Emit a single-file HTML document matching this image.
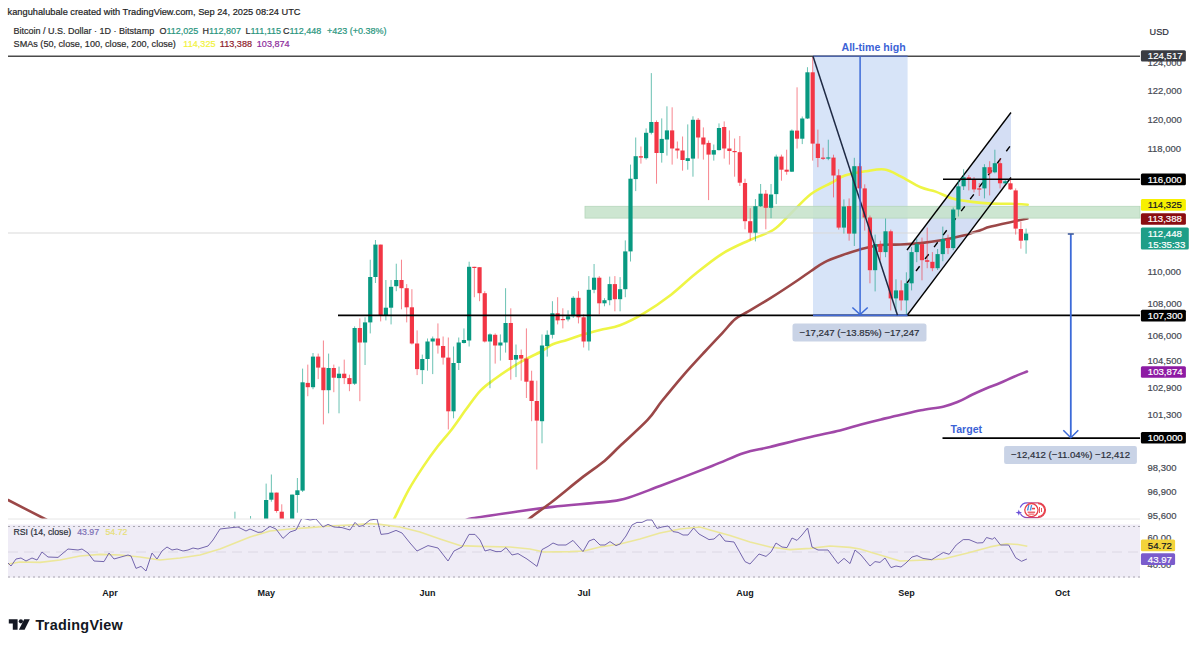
<!DOCTYPE html><html><head><meta charset="utf-8"><style>html,body{margin:0;padding:0;background:#fff;width:1200px;height:646px;overflow:hidden}svg{display:block}text{font-family:"Liberation Sans",sans-serif;white-space:pre}</style></head><body>
<svg width="1200" height="646" viewBox="0 0 1200 646">
<rect width="1200" height="646" fill="#fff"/>
<defs><clipPath id="main"><rect x="8" y="50" width="1132" height="469"/></clipPath><clipPath id="rsi"><rect x="8" y="519" width="1132" height="62"/></clipPath></defs>
<rect x="813" y="56" width="94.6" height="259.5" fill="#d7e4f8"/>
<polygon points="907,250 1011,112.5 1011,177.5 907,315.5" fill="#d4def4"/>
<g clip-path="url(#main)" fill="none" stroke-linejoin="round" stroke-linecap="round">
<path d="M462.0,522.0 C463.7,521.4 464.1,519.9 472.0,518.4 C479.9,516.9 496.1,514.6 509.5,512.7 C523.0,510.8 537.6,508.6 552.7,506.9 C567.8,505.2 588.1,503.7 600.0,502.4 C611.9,501.1 614.0,501.7 624.0,499.0 C634.0,496.3 645.3,491.5 660.0,486.0 C674.7,480.5 698.0,471.5 712.0,466.0 C726.0,460.5 734.3,456.2 744.0,453.0 C753.7,449.8 759.5,449.6 770.0,447.0 C780.5,444.4 795.5,440.5 807.2,437.7 C818.9,434.9 831.0,432.6 840.0,430.4 C849.0,428.2 854.2,426.2 861.0,424.4 C867.8,422.6 874.3,421.0 881.0,419.4 C887.7,417.8 894.3,416.2 901.0,414.7 C907.7,413.2 913.8,411.7 921.0,410.3 C928.2,408.9 937.8,407.8 944.0,406.4 C950.2,405.0 953.3,403.7 958.0,401.8 C962.7,399.9 967.3,397.0 972.0,394.8 C976.7,392.6 981.3,390.5 986.0,388.5 C990.7,386.5 995.3,385.0 1000.0,383.0 C1004.7,381.0 1009.5,378.6 1014.0,376.7 C1018.5,374.8 1024.8,372.4 1027.0,371.5" stroke="#a048a8" stroke-width="2.6"/>
<path d="M8.0,500.0 C14.2,503.2 38.0,515.3 45.0,519.0 C52.0,522.7 49.2,521.5 50.0,522.0" stroke="#9b4747" stroke-width="2.6"/>
<path d="M527.0,522.0 C527.4,521.4 525.3,521.9 529.6,518.4 C533.9,514.9 544.1,507.9 552.7,501.2 C561.3,494.5 572.8,484.8 581.4,478.1 C590.0,471.4 598.1,466.2 604.5,460.9 C610.9,455.5 612.8,452.8 620.0,446.0 C627.2,439.2 640.6,427.3 647.6,419.9 C654.6,412.4 655.8,408.7 661.7,401.3 C667.7,393.9 676.1,383.6 683.3,375.3 C690.5,367.0 698.5,358.5 705.0,351.5 C711.5,344.5 717.2,338.5 722.3,333.1 C727.3,327.7 731.0,322.6 735.3,319.0 C739.6,315.4 742.5,314.8 748.3,311.4 C754.1,308.0 761.7,303.6 770.0,298.4 C778.3,293.2 791.3,284.6 798.1,280.0 C804.9,275.4 806.6,273.9 811.0,271.0 C815.4,268.1 819.2,264.9 824.3,262.3 C829.3,259.7 835.3,257.6 841.3,255.5 C847.2,253.3 853.5,251.2 860.0,249.4 C866.5,247.7 873.7,245.8 880.5,245.0 C887.3,244.2 894.0,244.8 900.7,244.5 C907.4,244.2 914.1,243.8 920.8,243.1 C927.5,242.4 934.3,241.5 941.0,240.3 C947.7,239.1 954.3,237.7 961.0,236.0 C967.7,234.3 976.0,231.6 981.0,230.0 C986.0,228.4 983.3,228.5 991.0,226.6 C998.7,224.7 1021.3,219.8 1027.4,218.5" stroke="#9b4747" stroke-width="2.6"/>
<path d="M392.0,522.0 C392.4,521.4 391.6,523.8 394.4,518.4 C397.2,513.0 404.0,498.2 408.8,489.6 C413.6,481.0 418.4,473.8 423.2,466.6 C428.0,459.4 432.8,452.7 437.6,446.5 C442.4,440.3 447.1,435.4 451.9,429.2 C456.7,423.0 461.5,415.6 466.3,409.1 C471.1,402.6 475.9,395.4 480.7,390.4 C485.5,385.3 490.3,382.4 495.1,378.8 C499.9,375.2 504.7,371.9 509.5,368.8 C514.3,365.7 518.6,363.0 523.9,360.1 C529.2,357.2 536.4,354.1 541.2,351.5 C546.0,348.9 548.4,346.2 552.7,344.3 C557.0,342.4 562.5,341.5 567.0,340.0 C571.5,338.5 574.5,337.2 580.0,335.5 C585.5,333.8 593.3,331.7 600.0,330.0 C606.7,328.3 612.7,328.1 620.0,325.3 C627.3,322.5 635.3,318.5 643.8,313.4 C652.3,308.3 662.6,301.2 671.1,294.7 C679.6,288.2 686.4,281.1 694.9,274.3 C703.4,267.5 713.0,259.5 722.1,253.8 C731.2,248.1 740.9,244.2 749.4,240.2 C757.9,236.2 766.2,234.5 773.2,230.0 C780.2,225.5 784.8,219.2 791.1,213.2 C797.4,207.2 804.4,199.0 811.0,194.0 C817.6,189.0 825.3,186.1 831.0,183.0 C836.7,179.9 839.1,177.5 845.0,175.5 C850.9,173.5 859.8,172.2 866.4,171.2 C873.0,170.2 878.8,168.7 884.5,169.5 C890.2,170.3 894.6,173.3 900.6,176.3 C906.6,179.3 914.9,184.8 920.7,187.3 C926.6,189.9 930.4,189.7 935.7,191.6 C941.0,193.5 946.5,196.8 952.5,198.5 C958.5,200.2 965.5,201.1 972.0,201.9 C978.5,202.8 985.0,203.3 991.5,203.6 C998.0,203.9 1005.0,203.6 1011.0,203.8 C1017.0,204.0 1024.9,204.5 1027.7,204.7" stroke="#eef545" stroke-width="2.6"/>
</g>
<line x1="8" y1="233" x2="1140" y2="233" stroke="#d9d9d9" stroke-width="1"/>
<rect x="585" y="206.3" width="555" height="11.8" fill="#c6e2cb" fill-opacity="0.88" stroke="#b5d6bb" stroke-width="0.8"/>
<line x1="907" y1="250" x2="1011" y2="112.5" stroke="#000" stroke-width="1.35"/>
<line x1="907" y1="315.5" x2="1011" y2="177.5" stroke="#000" stroke-width="1.35"/>
<line x1="907" y1="283" x2="1011" y2="145" stroke="#000" stroke-width="1.4" stroke-dasharray="6,9"/>
<g clip-path="url(#main)">
<rect x="234.42" y="511.7" width="1" height="18.3" fill="#089981" fill-opacity="0.6"/>
<rect x="232.82" y="525.0" width="4.2" height="5.0" fill="#089981"/>
<rect x="250.03" y="516.0" width="1" height="14.0" fill="#089981" fill-opacity="0.6"/>
<rect x="248.44" y="525.0" width="4.2" height="5.0" fill="#089981"/>
<rect x="265.65" y="483.6" width="1" height="46.4" fill="#089981" fill-opacity="0.6"/>
<rect x="264.05" y="500.0" width="4.2" height="30.0" fill="#089981"/>
<rect x="270.86" y="474.5" width="1" height="27.2" fill="#089981" fill-opacity="0.6"/>
<rect x="269.25" y="492.6" width="4.2" height="7.1" fill="#089981"/>
<rect x="276.06" y="492.6" width="1" height="20.1" fill="#f23645" fill-opacity="0.6"/>
<rect x="274.46" y="492.6" width="4.2" height="18.4" fill="#f23645"/>
<rect x="281.26" y="504.3" width="1" height="25.7" fill="#f23645" fill-opacity="0.6"/>
<rect x="279.66" y="511.7" width="4.2" height="18.3" fill="#f23645"/>
<rect x="291.68" y="494.6" width="1" height="35.4" fill="#089981" fill-opacity="0.6"/>
<rect x="290.07" y="494.6" width="4.2" height="35.4" fill="#089981"/>
<rect x="296.88" y="478.0" width="1" height="34.7" fill="#089981" fill-opacity="0.6"/>
<rect x="295.28" y="490.3" width="4.2" height="4.7" fill="#089981"/>
<rect x="302.09" y="368.6" width="1" height="123.4" fill="#089981" fill-opacity="0.6"/>
<rect x="300.49" y="382.3" width="4.2" height="108.3" fill="#089981"/>
<rect x="307.29" y="364.6" width="1" height="31.6" fill="#f23645" fill-opacity="0.6"/>
<rect x="305.69" y="382.9" width="4.2" height="4.3" fill="#f23645"/>
<rect x="312.50" y="353.0" width="1" height="36.2" fill="#089981" fill-opacity="0.6"/>
<rect x="310.89" y="356.6" width="4.2" height="30.6" fill="#089981"/>
<rect x="317.70" y="353.6" width="1" height="25.5" fill="#f23645" fill-opacity="0.6"/>
<rect x="316.10" y="356.6" width="4.2" height="11.0" fill="#f23645"/>
<rect x="322.90" y="340.5" width="1" height="83.9" fill="#f23645" fill-opacity="0.6"/>
<rect x="321.30" y="367.6" width="4.2" height="22.6" fill="#f23645"/>
<rect x="328.11" y="353.6" width="1" height="59.7" fill="#089981" fill-opacity="0.6"/>
<rect x="326.51" y="368.0" width="4.2" height="22.2" fill="#089981"/>
<rect x="333.31" y="364.6" width="1" height="27.6" fill="#f23645" fill-opacity="0.6"/>
<rect x="331.71" y="368.0" width="4.2" height="9.7" fill="#f23645"/>
<rect x="338.52" y="366.6" width="1" height="46.7" fill="#089981" fill-opacity="0.6"/>
<rect x="336.92" y="373.7" width="4.2" height="4.4" fill="#089981"/>
<rect x="343.73" y="359.6" width="1" height="24.5" fill="#f23645" fill-opacity="0.6"/>
<rect x="342.12" y="373.7" width="4.2" height="4.4" fill="#f23645"/>
<rect x="348.93" y="374.7" width="1" height="16.5" fill="#f23645" fill-opacity="0.6"/>
<rect x="347.33" y="378.1" width="4.2" height="6.0" fill="#f23645"/>
<rect x="354.13" y="326.4" width="1" height="58.6" fill="#089981" fill-opacity="0.6"/>
<rect x="352.53" y="328.0" width="4.2" height="55.7" fill="#089981"/>
<rect x="359.34" y="318.4" width="1" height="82.8" fill="#f23645" fill-opacity="0.6"/>
<rect x="357.74" y="328.0" width="4.2" height="14.5" fill="#f23645"/>
<rect x="364.55" y="317.3" width="1" height="47.7" fill="#089981" fill-opacity="0.6"/>
<rect x="362.94" y="322.4" width="4.2" height="20.1" fill="#089981"/>
<rect x="369.75" y="259.7" width="1" height="73.7" fill="#089981" fill-opacity="0.6"/>
<rect x="368.15" y="277.0" width="4.2" height="45.4" fill="#089981"/>
<rect x="374.95" y="240.0" width="1" height="43.0" fill="#089981" fill-opacity="0.6"/>
<rect x="373.35" y="244.6" width="4.2" height="32.4" fill="#089981"/>
<rect x="380.16" y="244.6" width="1" height="76.8" fill="#f23645" fill-opacity="0.6"/>
<rect x="378.56" y="244.6" width="4.2" height="70.7" fill="#f23645"/>
<rect x="385.37" y="280.0" width="1" height="40.4" fill="#089981" fill-opacity="0.6"/>
<rect x="383.76" y="307.7" width="4.2" height="7.6" fill="#089981"/>
<rect x="390.57" y="280.0" width="1" height="44.4" fill="#089981" fill-opacity="0.6"/>
<rect x="388.97" y="286.8" width="4.2" height="20.9" fill="#089981"/>
<rect x="395.77" y="263.7" width="1" height="27.5" fill="#089981" fill-opacity="0.6"/>
<rect x="394.17" y="280.0" width="4.2" height="6.2" fill="#089981"/>
<rect x="400.98" y="259.7" width="1" height="49.6" fill="#f23645" fill-opacity="0.6"/>
<rect x="399.38" y="280.0" width="4.2" height="8.2" fill="#f23645"/>
<rect x="406.19" y="284.1" width="1" height="38.3" fill="#f23645" fill-opacity="0.6"/>
<rect x="404.58" y="288.2" width="4.2" height="19.1" fill="#f23645"/>
<rect x="411.39" y="289.2" width="1" height="55.3" fill="#f23645" fill-opacity="0.6"/>
<rect x="409.79" y="307.3" width="4.2" height="36.2" fill="#f23645"/>
<rect x="416.60" y="330.4" width="1" height="44.7" fill="#f23645" fill-opacity="0.6"/>
<rect x="415.00" y="343.5" width="4.2" height="25.6" fill="#f23645"/>
<rect x="421.80" y="354.6" width="1" height="29.5" fill="#089981" fill-opacity="0.6"/>
<rect x="420.20" y="359.0" width="4.2" height="11.1" fill="#089981"/>
<rect x="427.00" y="338.5" width="1" height="32.2" fill="#089981" fill-opacity="0.6"/>
<rect x="425.40" y="341.5" width="4.2" height="17.5" fill="#089981"/>
<rect x="432.21" y="336.5" width="1" height="37.6" fill="#089981" fill-opacity="0.6"/>
<rect x="430.61" y="338.5" width="4.2" height="3.0" fill="#089981"/>
<rect x="437.42" y="323.4" width="1" height="30.2" fill="#f23645" fill-opacity="0.6"/>
<rect x="435.81" y="338.5" width="4.2" height="7.0" fill="#f23645"/>
<rect x="442.62" y="336.5" width="1" height="28.1" fill="#f23645" fill-opacity="0.6"/>
<rect x="441.02" y="346.0" width="4.2" height="11.6" fill="#f23645"/>
<rect x="447.82" y="337.5" width="1" height="91.9" fill="#f23645" fill-opacity="0.6"/>
<rect x="446.22" y="357.6" width="4.2" height="53.7" fill="#f23645"/>
<rect x="453.03" y="346.5" width="1" height="71.8" fill="#089981" fill-opacity="0.6"/>
<rect x="451.43" y="363.0" width="4.2" height="48.3" fill="#089981"/>
<rect x="458.24" y="337.5" width="1" height="32.5" fill="#089981" fill-opacity="0.6"/>
<rect x="456.63" y="342.5" width="4.2" height="20.5" fill="#089981"/>
<rect x="463.44" y="328.4" width="1" height="15.1" fill="#089981" fill-opacity="0.6"/>
<rect x="461.84" y="340.0" width="4.2" height="3.0" fill="#089981"/>
<rect x="468.64" y="261.7" width="1" height="84.8" fill="#089981" fill-opacity="0.6"/>
<rect x="467.04" y="266.8" width="4.2" height="73.7" fill="#089981"/>
<rect x="473.85" y="266.8" width="1" height="30.4" fill="#f23645" fill-opacity="0.6"/>
<rect x="472.25" y="266.8" width="4.2" height="1.2" fill="#f23645"/>
<rect x="479.06" y="267.2" width="1" height="34.0" fill="#f23645" fill-opacity="0.6"/>
<rect x="477.45" y="267.2" width="4.2" height="26.0" fill="#f23645"/>
<rect x="484.26" y="291.2" width="1" height="51.3" fill="#f23645" fill-opacity="0.6"/>
<rect x="482.66" y="293.2" width="4.2" height="48.3" fill="#f23645"/>
<rect x="489.47" y="333.4" width="1" height="54.8" fill="#089981" fill-opacity="0.6"/>
<rect x="487.87" y="334.4" width="4.2" height="7.1" fill="#089981"/>
<rect x="494.67" y="333.4" width="1" height="30.2" fill="#f23645" fill-opacity="0.6"/>
<rect x="493.07" y="334.8" width="4.2" height="10.7" fill="#f23645"/>
<rect x="499.88" y="334.4" width="1" height="26.2" fill="#089981" fill-opacity="0.6"/>
<rect x="498.27" y="342.5" width="4.2" height="3.0" fill="#089981"/>
<rect x="505.08" y="288.2" width="1" height="64.4" fill="#089981" fill-opacity="0.6"/>
<rect x="503.48" y="323.0" width="4.2" height="19.5" fill="#089981"/>
<rect x="510.29" y="308.3" width="1" height="71.4" fill="#f23645" fill-opacity="0.6"/>
<rect x="508.69" y="323.0" width="4.2" height="37.0" fill="#f23645"/>
<rect x="515.49" y="344.5" width="1" height="32.6" fill="#089981" fill-opacity="0.6"/>
<rect x="513.89" y="355.0" width="4.2" height="4.6" fill="#089981"/>
<rect x="520.69" y="349.5" width="1" height="31.2" fill="#f23645" fill-opacity="0.6"/>
<rect x="519.09" y="355.0" width="4.2" height="3.6" fill="#f23645"/>
<rect x="525.90" y="328.4" width="1" height="69.6" fill="#f23645" fill-opacity="0.6"/>
<rect x="524.30" y="358.6" width="4.2" height="23.1" fill="#f23645"/>
<rect x="531.11" y="370.7" width="1" height="50.5" fill="#f23645" fill-opacity="0.6"/>
<rect x="529.50" y="380.7" width="4.2" height="20.3" fill="#f23645"/>
<rect x="536.31" y="380.7" width="1" height="88.8" fill="#f23645" fill-opacity="0.6"/>
<rect x="534.71" y="401.0" width="4.2" height="19.6" fill="#f23645"/>
<rect x="541.51" y="334.4" width="1" height="108.9" fill="#089981" fill-opacity="0.6"/>
<rect x="539.91" y="345.5" width="4.2" height="75.7" fill="#089981"/>
<rect x="546.72" y="330.4" width="1" height="26.2" fill="#089981" fill-opacity="0.6"/>
<rect x="545.12" y="334.8" width="4.2" height="11.3" fill="#089981"/>
<rect x="551.92" y="301.2" width="1" height="37.3" fill="#089981" fill-opacity="0.6"/>
<rect x="550.32" y="313.3" width="4.2" height="21.5" fill="#089981"/>
<rect x="557.13" y="297.2" width="1" height="27.2" fill="#f23645" fill-opacity="0.6"/>
<rect x="555.53" y="313.3" width="4.2" height="7.1" fill="#f23645"/>
<rect x="562.34" y="308.3" width="1" height="20.1" fill="#f23645" fill-opacity="0.6"/>
<rect x="560.74" y="319.0" width="4.2" height="1.2" fill="#f23645"/>
<rect x="567.54" y="310.3" width="1" height="11.1" fill="#089981" fill-opacity="0.6"/>
<rect x="565.94" y="316.3" width="4.2" height="3.1" fill="#089981"/>
<rect x="572.75" y="296.2" width="1" height="21.8" fill="#089981" fill-opacity="0.6"/>
<rect x="571.14" y="297.8" width="4.2" height="18.5" fill="#089981"/>
<rect x="577.95" y="291.2" width="1" height="32.2" fill="#f23645" fill-opacity="0.6"/>
<rect x="576.35" y="297.8" width="4.2" height="19.5" fill="#f23645"/>
<rect x="583.15" y="314.3" width="1" height="33.2" fill="#f23645" fill-opacity="0.6"/>
<rect x="581.55" y="317.3" width="4.2" height="24.2" fill="#f23645"/>
<rect x="588.36" y="276.1" width="1" height="74.4" fill="#089981" fill-opacity="0.6"/>
<rect x="586.76" y="289.8" width="4.2" height="51.7" fill="#089981"/>
<rect x="593.57" y="264.0" width="1" height="29.2" fill="#089981" fill-opacity="0.6"/>
<rect x="591.97" y="277.7" width="4.2" height="12.1" fill="#089981"/>
<rect x="598.77" y="276.1" width="1" height="38.2" fill="#f23645" fill-opacity="0.6"/>
<rect x="597.17" y="277.7" width="4.2" height="25.6" fill="#f23645"/>
<rect x="603.98" y="298.2" width="1" height="8.1" fill="#089981" fill-opacity="0.6"/>
<rect x="602.38" y="300.2" width="4.2" height="3.1" fill="#089981"/>
<rect x="609.18" y="276.6" width="1" height="28.7" fill="#089981" fill-opacity="0.6"/>
<rect x="607.58" y="284.1" width="4.2" height="16.1" fill="#089981"/>
<rect x="614.38" y="276.1" width="1" height="35.2" fill="#f23645" fill-opacity="0.6"/>
<rect x="612.78" y="284.1" width="4.2" height="15.1" fill="#f23645"/>
<rect x="619.59" y="277.1" width="1" height="34.2" fill="#089981" fill-opacity="0.6"/>
<rect x="617.99" y="289.2" width="4.2" height="10.0" fill="#089981"/>
<rect x="624.79" y="240.4" width="1" height="56.8" fill="#089981" fill-opacity="0.6"/>
<rect x="623.19" y="251.4" width="4.2" height="37.8" fill="#089981"/>
<rect x="630.00" y="164.6" width="1" height="96.9" fill="#089981" fill-opacity="0.6"/>
<rect x="628.40" y="178.7" width="4.2" height="72.7" fill="#089981"/>
<rect x="635.21" y="137.5" width="1" height="53.6" fill="#089981" fill-opacity="0.6"/>
<rect x="633.61" y="156.2" width="4.2" height="22.9" fill="#089981"/>
<rect x="640.41" y="146.5" width="1" height="17.1" fill="#f23645" fill-opacity="0.6"/>
<rect x="638.81" y="156.2" width="4.2" height="1.4" fill="#f23645"/>
<rect x="645.62" y="128.4" width="1" height="31.2" fill="#089981" fill-opacity="0.6"/>
<rect x="644.01" y="132.8" width="4.2" height="25.4" fill="#089981"/>
<rect x="650.82" y="73.1" width="1" height="61.3" fill="#089981" fill-opacity="0.6"/>
<rect x="649.22" y="122.0" width="4.2" height="10.8" fill="#089981"/>
<rect x="656.02" y="120.4" width="1" height="63.3" fill="#f23645" fill-opacity="0.6"/>
<rect x="654.42" y="122.0" width="4.2" height="31.0" fill="#f23645"/>
<rect x="661.23" y="118.4" width="1" height="44.2" fill="#089981" fill-opacity="0.6"/>
<rect x="659.63" y="138.9" width="4.2" height="14.1" fill="#089981"/>
<rect x="666.44" y="106.3" width="1" height="49.3" fill="#089981" fill-opacity="0.6"/>
<rect x="664.84" y="130.4" width="4.2" height="9.1" fill="#089981"/>
<rect x="671.64" y="107.3" width="1" height="57.3" fill="#f23645" fill-opacity="0.6"/>
<rect x="670.04" y="130.4" width="4.2" height="18.1" fill="#f23645"/>
<rect x="676.85" y="141.5" width="1" height="17.1" fill="#f23645" fill-opacity="0.6"/>
<rect x="675.25" y="148.5" width="4.2" height="2.0" fill="#f23645"/>
<rect x="682.05" y="136.5" width="1" height="34.2" fill="#f23645" fill-opacity="0.6"/>
<rect x="680.45" y="150.5" width="4.2" height="9.5" fill="#f23645"/>
<rect x="687.25" y="124.4" width="1" height="45.3" fill="#089981" fill-opacity="0.6"/>
<rect x="685.65" y="158.2" width="4.2" height="2.8" fill="#089981"/>
<rect x="692.46" y="116.3" width="1" height="60.4" fill="#089981" fill-opacity="0.6"/>
<rect x="690.86" y="119.8" width="4.2" height="38.8" fill="#089981"/>
<rect x="697.66" y="118.0" width="1" height="40.6" fill="#f23645" fill-opacity="0.6"/>
<rect x="696.06" y="119.8" width="4.2" height="17.7" fill="#f23645"/>
<rect x="702.87" y="127.4" width="1" height="32.2" fill="#f23645" fill-opacity="0.6"/>
<rect x="701.27" y="137.5" width="4.2" height="7.0" fill="#f23645"/>
<rect x="708.08" y="140.5" width="1" height="59.6" fill="#f23645" fill-opacity="0.6"/>
<rect x="706.48" y="142.9" width="4.2" height="11.7" fill="#f23645"/>
<rect x="713.28" y="144.5" width="1" height="16.1" fill="#089981" fill-opacity="0.6"/>
<rect x="711.68" y="150.1" width="4.2" height="4.5" fill="#089981"/>
<rect x="718.49" y="123.4" width="1" height="27.1" fill="#089981" fill-opacity="0.6"/>
<rect x="716.88" y="128.0" width="4.2" height="22.1" fill="#089981"/>
<rect x="723.69" y="121.4" width="1" height="37.2" fill="#f23645" fill-opacity="0.6"/>
<rect x="722.09" y="127.0" width="4.2" height="21.5" fill="#f23645"/>
<rect x="728.89" y="130.4" width="1" height="34.2" fill="#f23645" fill-opacity="0.6"/>
<rect x="727.29" y="148.5" width="4.2" height="2.5" fill="#f23645"/>
<rect x="734.10" y="138.5" width="1" height="38.2" fill="#f23645" fill-opacity="0.6"/>
<rect x="732.50" y="151.0" width="4.2" height="1.2" fill="#f23645"/>
<rect x="739.31" y="136.0" width="1" height="50.0" fill="#f23645" fill-opacity="0.6"/>
<rect x="737.71" y="152.2" width="4.2" height="30.5" fill="#f23645"/>
<rect x="744.51" y="178.7" width="1" height="50.6" fill="#f23645" fill-opacity="0.6"/>
<rect x="742.91" y="183.0" width="4.2" height="38.2" fill="#f23645"/>
<rect x="749.72" y="208.2" width="1" height="32.2" fill="#f23645" fill-opacity="0.6"/>
<rect x="748.12" y="221.2" width="4.2" height="11.5" fill="#f23645"/>
<rect x="754.92" y="199.1" width="1" height="42.3" fill="#089981" fill-opacity="0.6"/>
<rect x="753.32" y="206.2" width="4.2" height="26.5" fill="#089981"/>
<rect x="760.12" y="184.0" width="1" height="23.0" fill="#089981" fill-opacity="0.6"/>
<rect x="758.52" y="193.7" width="4.2" height="12.5" fill="#089981"/>
<rect x="765.33" y="190.0" width="1" height="39.3" fill="#f23645" fill-opacity="0.6"/>
<rect x="763.73" y="193.7" width="4.2" height="14.1" fill="#f23645"/>
<rect x="770.53" y="184.0" width="1" height="34.2" fill="#089981" fill-opacity="0.6"/>
<rect x="768.93" y="194.5" width="4.2" height="13.3" fill="#089981"/>
<rect x="775.74" y="154.6" width="1" height="49.5" fill="#089981" fill-opacity="0.6"/>
<rect x="774.14" y="156.6" width="4.2" height="37.5" fill="#089981"/>
<rect x="780.95" y="154.6" width="1" height="26.1" fill="#f23645" fill-opacity="0.6"/>
<rect x="779.35" y="156.6" width="4.2" height="13.1" fill="#f23645"/>
<rect x="786.15" y="149.7" width="1" height="25.0" fill="#f23645" fill-opacity="0.6"/>
<rect x="784.55" y="169.7" width="4.2" height="2.0" fill="#f23645"/>
<rect x="791.36" y="129.4" width="1" height="42.6" fill="#089981" fill-opacity="0.6"/>
<rect x="789.75" y="130.6" width="4.2" height="41.1" fill="#089981"/>
<rect x="796.56" y="87.3" width="1" height="61.2" fill="#f23645" fill-opacity="0.6"/>
<rect x="794.96" y="130.6" width="4.2" height="8.1" fill="#f23645"/>
<rect x="801.76" y="116.5" width="1" height="27.6" fill="#089981" fill-opacity="0.6"/>
<rect x="800.16" y="118.5" width="4.2" height="20.2" fill="#089981"/>
<rect x="806.97" y="67.2" width="1" height="51.8" fill="#089981" fill-opacity="0.6"/>
<rect x="805.37" y="72.3" width="4.2" height="46.2" fill="#089981"/>
<rect x="812.17" y="56.2" width="1" height="104.4" fill="#f23645" fill-opacity="0.6"/>
<rect x="810.57" y="72.3" width="4.2" height="71.3" fill="#f23645"/>
<rect x="817.38" y="129.6" width="1" height="37.6" fill="#f23645" fill-opacity="0.6"/>
<rect x="815.78" y="143.7" width="4.2" height="14.3" fill="#f23645"/>
<rect x="822.59" y="147.7" width="1" height="12.3" fill="#f23645" fill-opacity="0.6"/>
<rect x="820.99" y="157.6" width="4.2" height="1.2" fill="#f23645"/>
<rect x="827.79" y="139.7" width="1" height="20.5" fill="#089981" fill-opacity="0.6"/>
<rect x="826.19" y="157.4" width="4.2" height="1.2" fill="#089981"/>
<rect x="833.00" y="154.7" width="1" height="42.7" fill="#f23645" fill-opacity="0.6"/>
<rect x="831.39" y="157.6" width="4.2" height="17.9" fill="#f23645"/>
<rect x="838.20" y="169.2" width="1" height="60.4" fill="#f23645" fill-opacity="0.6"/>
<rect x="836.60" y="175.3" width="4.2" height="52.3" fill="#f23645"/>
<rect x="843.40" y="199.4" width="1" height="34.2" fill="#089981" fill-opacity="0.6"/>
<rect x="841.80" y="206.5" width="4.2" height="21.1" fill="#089981"/>
<rect x="848.61" y="198.4" width="1" height="42.3" fill="#f23645" fill-opacity="0.6"/>
<rect x="847.01" y="206.1" width="4.2" height="27.5" fill="#f23645"/>
<rect x="853.82" y="157.8" width="1" height="88.2" fill="#089981" fill-opacity="0.6"/>
<rect x="852.22" y="166.2" width="4.2" height="67.4" fill="#089981"/>
<rect x="859.02" y="163.2" width="1" height="29.2" fill="#f23645" fill-opacity="0.6"/>
<rect x="857.42" y="166.2" width="4.2" height="22.2" fill="#f23645"/>
<rect x="864.23" y="184.3" width="1" height="46.3" fill="#f23645" fill-opacity="0.6"/>
<rect x="862.62" y="188.4" width="4.2" height="29.1" fill="#f23645"/>
<rect x="869.43" y="215.5" width="1" height="67.8" fill="#f23645" fill-opacity="0.6"/>
<rect x="867.83" y="217.5" width="4.2" height="52.7" fill="#f23645"/>
<rect x="874.63" y="234.6" width="1" height="56.8" fill="#089981" fill-opacity="0.6"/>
<rect x="873.03" y="244.1" width="4.2" height="26.1" fill="#089981"/>
<rect x="879.84" y="240.7" width="1" height="19.5" fill="#f23645" fill-opacity="0.6"/>
<rect x="878.24" y="244.1" width="4.2" height="8.0" fill="#f23645"/>
<rect x="885.04" y="218.5" width="1" height="38.7" fill="#089981" fill-opacity="0.6"/>
<rect x="883.44" y="231.3" width="4.2" height="20.8" fill="#089981"/>
<rect x="890.25" y="229.6" width="1" height="80.9" fill="#f23645" fill-opacity="0.6"/>
<rect x="888.65" y="231.3" width="4.2" height="67.1" fill="#f23645"/>
<rect x="895.46" y="279.3" width="1" height="32.2" fill="#089981" fill-opacity="0.6"/>
<rect x="893.86" y="290.4" width="4.2" height="8.0" fill="#089981"/>
<rect x="900.66" y="280.3" width="1" height="30.2" fill="#f23645" fill-opacity="0.6"/>
<rect x="899.06" y="290.4" width="4.2" height="10.0" fill="#f23645"/>
<rect x="905.87" y="272.3" width="1" height="42.2" fill="#089981" fill-opacity="0.6"/>
<rect x="904.26" y="283.3" width="4.2" height="17.1" fill="#089981"/>
<rect x="911.07" y="247.1" width="1" height="43.3" fill="#089981" fill-opacity="0.6"/>
<rect x="909.47" y="252.1" width="4.2" height="31.2" fill="#089981"/>
<rect x="916.27" y="238.7" width="1" height="23.5" fill="#089981" fill-opacity="0.6"/>
<rect x="914.67" y="244.1" width="4.2" height="8.0" fill="#089981"/>
<rect x="921.48" y="237.6" width="1" height="42.7" fill="#f23645" fill-opacity="0.6"/>
<rect x="919.88" y="244.1" width="4.2" height="16.1" fill="#f23645"/>
<rect x="926.69" y="227.6" width="1" height="40.6" fill="#f23645" fill-opacity="0.6"/>
<rect x="925.09" y="260.2" width="4.2" height="1.6" fill="#f23645"/>
<rect x="931.89" y="252.1" width="1" height="19.1" fill="#f23645" fill-opacity="0.6"/>
<rect x="930.29" y="261.8" width="4.2" height="6.4" fill="#f23645"/>
<rect x="937.10" y="249.0" width="1" height="21.0" fill="#089981" fill-opacity="0.6"/>
<rect x="935.50" y="254.1" width="4.2" height="14.1" fill="#089981"/>
<rect x="942.30" y="226.6" width="1" height="34.6" fill="#089981" fill-opacity="0.6"/>
<rect x="940.70" y="239.0" width="4.2" height="15.1" fill="#089981"/>
<rect x="947.50" y="234.6" width="1" height="19.5" fill="#f23645" fill-opacity="0.6"/>
<rect x="945.90" y="239.0" width="4.2" height="9.1" fill="#f23645"/>
<rect x="952.71" y="207.5" width="1" height="42.6" fill="#089981" fill-opacity="0.6"/>
<rect x="951.11" y="209.5" width="4.2" height="38.6" fill="#089981"/>
<rect x="957.91" y="180.3" width="1" height="36.2" fill="#089981" fill-opacity="0.6"/>
<rect x="956.31" y="186.3" width="4.2" height="23.2" fill="#089981"/>
<rect x="963.12" y="169.2" width="1" height="20.8" fill="#089981" fill-opacity="0.6"/>
<rect x="961.52" y="177.3" width="4.2" height="9.0" fill="#089981"/>
<rect x="968.33" y="175.0" width="1" height="15.4" fill="#f23645" fill-opacity="0.6"/>
<rect x="966.73" y="177.3" width="4.2" height="2.0" fill="#f23645"/>
<rect x="973.53" y="177.0" width="1" height="15.4" fill="#f23645" fill-opacity="0.6"/>
<rect x="971.93" y="179.3" width="4.2" height="10.1" fill="#f23645"/>
<rect x="978.74" y="183.0" width="1" height="13.0" fill="#f23645" fill-opacity="0.6"/>
<rect x="977.13" y="188.4" width="4.2" height="1.2" fill="#f23645"/>
<rect x="983.94" y="164.2" width="1" height="34.2" fill="#089981" fill-opacity="0.6"/>
<rect x="982.34" y="167.2" width="4.2" height="21.2" fill="#089981"/>
<rect x="989.14" y="161.2" width="1" height="34.2" fill="#f23645" fill-opacity="0.6"/>
<rect x="987.54" y="167.2" width="4.2" height="6.1" fill="#f23645"/>
<rect x="994.35" y="149.7" width="1" height="23.6" fill="#089981" fill-opacity="0.6"/>
<rect x="992.75" y="163.2" width="4.2" height="9.1" fill="#089981"/>
<rect x="999.56" y="158.2" width="1" height="30.2" fill="#f23645" fill-opacity="0.6"/>
<rect x="997.96" y="163.2" width="4.2" height="20.1" fill="#f23645"/>
<rect x="1004.76" y="179.3" width="1" height="5.0" fill="#089981" fill-opacity="0.6"/>
<rect x="1003.16" y="181.3" width="4.2" height="2.0" fill="#089981"/>
<rect x="1009.97" y="178.3" width="1" height="11.7" fill="#f23645" fill-opacity="0.6"/>
<rect x="1008.37" y="183.3" width="4.2" height="6.1" fill="#f23645"/>
<rect x="1015.17" y="188.4" width="1" height="46.2" fill="#f23645" fill-opacity="0.6"/>
<rect x="1013.57" y="190.4" width="4.2" height="38.2" fill="#f23645"/>
<rect x="1020.38" y="221.6" width="1" height="27.1" fill="#f23645" fill-opacity="0.6"/>
<rect x="1018.77" y="229.0" width="4.2" height="11.7" fill="#f23645"/>
<rect x="1025.58" y="228.6" width="1" height="25.1" fill="#089981" fill-opacity="0.6"/>
<rect x="1023.98" y="233.6" width="4.2" height="6.7" fill="#089981"/>
</g>
<line x1="8" y1="56.2" x2="1140" y2="56.2" stroke="#4a4a4a" stroke-width="1.6"/>
<line x1="813" y1="56.2" x2="907.6" y2="56.2" stroke="#4d64a8" stroke-width="1.6"/>
<line x1="943" y1="179.3" x2="1140" y2="179.3" stroke="#000" stroke-width="1.6"/>
<line x1="338" y1="315.3" x2="1140" y2="315.3" stroke="#000" stroke-width="1.8"/>
<line x1="813" y1="315.3" x2="907.6" y2="315.3" stroke="#4169d4" stroke-width="1.8"/>
<line x1="942.5" y1="438.2" x2="1140" y2="438.2" stroke="#000" stroke-width="1.8"/>
<line x1="813" y1="56.2" x2="897.5" y2="315.3" stroke="#1f2a44" stroke-width="1.5"/>
<g stroke="#3c6ad8" stroke-width="1.5" fill="none">
<line x1="860.1" y1="56.5" x2="860.1" y2="314.5"/><polyline points="852.4,307.5 860.1,314.5 867.7,307.5"/>
<line x1="1070.8" y1="234" x2="1070.8" y2="437.5" stroke-width="1.8"/><polyline points="1063.3,430.2 1070.8,437.8 1078.3,430.2"/><line x1="1067.8" y1="234" x2="1073.8" y2="234" stroke="#3f5b9c" stroke-width="1.6"/>
</g>
<text x="873.6" y="51" font-size="10.6" font-weight="bold" fill="#3c63d6" text-anchor="middle">All-time high</text>
<text x="950.5" y="433.2" font-size="10.6" font-weight="bold" fill="#3c63d6">Target</text>
<rect x="792.5" y="323.6" width="134" height="18" rx="2.5" fill="#c9d3e6"/>
<text x="859.5" y="335.5" font-size="9.6" fill="#2a2e39" stroke="#2a2e39" stroke-width="0.2" text-anchor="middle">−17,247 (−13.85%) −17,247</text>
<rect x="1004.1" y="445.9" width="132.8" height="18.1" rx="2" fill="#c9d3e6"/>
<text x="1070.5" y="458.3" font-size="9.6" fill="#2a2e39" stroke="#2a2e39" stroke-width="0.2" text-anchor="middle">−12,412 (−11.04%) −12,412</text>
<defs><linearGradient id="pill" x1="0" x2="1" y1="0" y2="0"><stop offset="0" stop-color="#6a4fd8"/><stop offset="0.45" stop-color="#c0448a"/><stop offset="1" stop-color="#e8414b"/></linearGradient></defs>
<path d="M1027,502.8 H1038 A7.4,7.4 0 0 1 1038,517.6 H1027 A7.4,7.4 0 0 1 1020.4,513.5" fill="none" stroke="url(#pill)" stroke-width="1.2"/>
<path d="M1020.2,507.5 A7.4,7.4 0 0 1 1027,502.8" fill="none" stroke="#6a4fd8" stroke-width="1.2"/>
<circle cx="1031.4" cy="510.1" r="6.6" fill="#fff" stroke="#e8414b" stroke-width="1.3"/>
<path d="M1038.1,503.5 A6.6,6.6 0 0 1 1038.1,516.7" fill="none" stroke="#e8414b" stroke-width="1.3"/>
<path d="M1018.8,509.4 L1019.6,511.8 L1022,512.6 L1019.6,513.4 L1018.8,515.8 L1018,513.4 L1015.6,512.6 L1018,511.8Z" fill="#6a4fd8"/>
<path d="M1026.8,510.4 L1028.2,505 H1029.4 L1028.4,510.4Z M1029.6,510.4 L1031,505 H1032.2 L1031.2,510.4Z" fill="#4a8ee0"/><rect x="1032" y="507.8" width="3" height="1.6" fill="#e8414b"/><rect x="1027.6" y="511.6" width="7.5" height="1.2" fill="#e8414b"/><rect x="1028.4" y="513.6" width="6" height="1" fill="#e8414b"/>
<path d="M1039.5,507 v6 M1041.5,508 v4" stroke="#e8414b" stroke-width="0.9"/>
<line x1="8" y1="519" x2="1140" y2="519" stroke="#e6e6e6" stroke-width="1"/>
<rect x="8" y="524.5" width="1132" height="53" fill="#efecf6"/>
<line x1="8" y1="526.5" x2="1140" y2="526.5" stroke="#a8a6b0" stroke-width="1" stroke-dasharray="2,3"/>
<line x1="8" y1="577" x2="1140" y2="577" stroke="#a8a6b0" stroke-width="1" stroke-dasharray="2,3"/>
<line x1="8" y1="552" x2="1140" y2="552" stroke="#dcd8e4" stroke-width="1" stroke-dasharray="10,6"/>
<g clip-path="url(#rsi)" fill="none" stroke-linejoin="round">
<polyline points="8.0,564.0 20.0,562.0 40.0,562.4 60.0,560.0 80.0,556.0 100.0,554.4 120.0,555.0 140.0,557.0 160.0,560.0 180.0,558.0 200.0,555.0 220.0,549.0 240.0,541.0 250.0,537.0 270.0,531.0 290.0,529.0 310.0,527.6 330.0,526.0 350.0,525.0 370.0,523.6 380.0,524.4 400.0,527.0 420.0,532.0 440.0,539.0 460.0,545.6 480.0,546.4 510.0,547.0 530.0,549.0 544.0,552.0 570.0,551.6 584.0,551.0 600.0,547.0 620.0,544.0 640.0,539.0 660.0,533.0 680.0,529.0 700.0,527.0 710.0,530.0 730.0,535.6 750.0,542.0 770.0,547.0 790.0,549.6 810.0,548.4 830.0,546.0 850.0,547.4 860.0,549.0 880.0,555.0 900.0,561.0 920.0,560.2 943.3,559.0 966.7,553.2 990.0,546.9 1006.3,543.8 1018.0,544.5 1027.3,546.2" stroke="#ece79a" stroke-width="1.6"/>
<polyline points="8.0,563.0 11.0,566.0 16.0,559.0 21.0,558.0 26.0,561.0 32.0,558.0 37.0,560.0 42.0,552.0 48.0,557.0 58.0,557.4 68.0,549.0 78.0,550.0 82.0,549.0 88.0,553.0 94.0,561.0 104.0,561.6 109.0,553.0 114.0,559.0 128.0,555.0 131.0,556.0 136.0,568.4 141.0,566.4 146.0,571.0 152.0,553.0 157.0,559.0 162.0,551.0 167.0,547.0 172.0,550.0 177.0,549.0 183.0,551.0 188.0,550.0 193.0,548.0 198.0,549.0 208.0,546.0 213.0,540.0 220.0,529.0 232.0,527.6 238.0,527.0 246.0,531.0 250.0,529.0 258.0,532.4 262.0,532.0 270.0,526.4 276.0,529.0 283.0,538.4 290.0,532.0 296.0,530.0 302.0,518.0 310.0,520.0 316.0,519.0 323.0,527.0 328.0,524.4 334.0,527.0 342.0,527.6 350.0,530.0 355.0,522.4 359.0,526.4 363.0,525.6 370.0,520.0 377.0,519.0 381.0,534.4 388.0,533.6 396.0,530.4 402.0,533.0 410.0,543.0 417.0,551.0 428.0,545.6 438.0,548.0 448.0,561.0 454.0,551.0 462.0,547.0 469.0,534.4 475.0,534.4 480.0,540.0 485.0,551.0 490.0,549.6 496.0,551.6 501.0,551.6 506.0,547.6 512.0,555.0 518.0,553.6 527.0,559.0 537.0,566.4 542.0,549.6 548.0,546.4 553.0,543.0 558.0,545.0 566.0,545.0 573.0,540.4 583.0,551.6 589.0,541.0 594.0,539.0 600.0,545.0 605.0,545.0 610.0,541.6 616.0,545.6 620.0,544.0 626.0,536.0 632.0,525.0 637.0,522.4 642.0,522.4 647.0,520.0 652.0,520.0 657.0,528.4 662.0,527.0 668.0,526.0 673.0,531.6 678.0,532.4 683.0,535.0 688.0,535.0 693.6,528.0 699.0,534.0 709.0,539.6 714.0,539.0 719.6,534.0 725.0,541.0 734.0,542.0 745.0,561.6 750.0,564.0 759.0,554.0 766.0,556.4 771.0,552.0 776.0,543.0 782.0,547.0 787.0,547.6 792.0,538.0 797.0,540.4 802.0,535.0 807.6,528.0 812.0,547.0 818.0,550.0 828.0,550.0 838.0,563.6 844.0,558.4 850.0,563.6 855.0,550.0 861.0,555.0 870.0,566.0 875.0,561.6 880.0,562.4 885.0,558.0 891.0,567.6 896.0,566.0 901.0,567.0 906.0,563.0 912.0,557.0 917.0,555.6 923.0,558.4 931.7,559.7 943.3,552.5 949.2,554.3 956.2,545.0 963.2,539.6 969.0,539.6 977.2,543.0 983.0,542.7 986.5,537.5 992.3,539.2 994.7,537.5 1000.5,545.0 1008.7,545.0 1015.7,557.8 1021.5,561.3 1026.9,559.0" stroke="#7466ad" stroke-width="1"/>
</g>
<text x="13.4" y="534.8" font-size="8.75" fill="#2a2e39" stroke="#2a2e39" stroke-width="0.2">RSI (14, close)</text><text x="77.2" y="534.8" font-size="8.75" fill="#7c6fb4" stroke="#7c6fb4" stroke-width="0.2">43.97</text><text x="105.5" y="534.8" font-size="8.75" fill="#e8e07a" stroke="#e8e07a" stroke-width="0.2">54.72</text>
<text x="7.6" y="15" font-size="9.25" fill="#222" stroke="#222" stroke-width="0.2">kanguhalubale created with TradingView.com, Sep 24, 2025 08:24 UTC</text>
<text x="13.6" y="34.3" font-size="9.0" fill="#2c2c2c" stroke="#2c2c2c" stroke-width="0.2">Bitcoin / U.S. Dollar · 1D · Bitstamp<tspan x="159.4">O</tspan><tspan fill="#27957d" stroke="#27957d" stroke-width="0.2">112,025</tspan><tspan x="202.6">H</tspan><tspan fill="#27957d" stroke="#27957d" stroke-width="0.2">112,807</tspan><tspan x="245.5">L</tspan><tspan fill="#27957d" stroke="#27957d" stroke-width="0.2">111,115</tspan><tspan x="283">C</tspan><tspan fill="#27957d" stroke="#27957d" stroke-width="0.2">112,448</tspan><tspan x="327" fill="#27957d" stroke="#27957d" stroke-width="0.2">+423 (+0.38%)</tspan></text>
<text x="13.6" y="46.6" font-size="9.1" fill="#2c2c2c" stroke="#2c2c2c" stroke-width="0.2">SMAs (50, close, 100, close, 200, close)<tspan x="183.3" fill="#f2f23a" stroke="#f2f23a" stroke-width="0.2">114,325</tspan><tspan x="219.8" fill="#8e1b2b" stroke="#8e1b2b" stroke-width="0.2">113,388</tspan><tspan x="256.8" fill="#8c2a9c" stroke="#8c2a9c" stroke-width="0.2">103,874</tspan></text>
<text x="1149.6" y="34.6" font-size="9.1" fill="#2a2e39" stroke="#2a2e39" stroke-width="0.2">USD</text>
<text x="1147.5" y="65.9" font-size="9.46" fill="#464a53" stroke="#464a53" stroke-width="0.2">124,000</text>
<text x="1147.5" y="94.2" font-size="9.46" fill="#464a53" stroke="#464a53" stroke-width="0.2">122,000</text>
<text x="1147.5" y="123.2" font-size="9.46" fill="#464a53" stroke="#464a53" stroke-width="0.2">120,000</text>
<text x="1147.5" y="152.1" font-size="9.46" fill="#464a53" stroke="#464a53" stroke-width="0.2">118,000</text>
<text x="1147.5" y="274.8" font-size="9.46" fill="#464a53" stroke="#464a53" stroke-width="0.2">110,000</text>
<text x="1147.5" y="307.4" font-size="9.46" fill="#464a53" stroke="#464a53" stroke-width="0.2">108,000</text>
<text x="1147.5" y="339.4" font-size="9.46" fill="#464a53" stroke="#464a53" stroke-width="0.2">106,000</text>
<text x="1147.5" y="364.2" font-size="9.46" fill="#464a53" stroke="#464a53" stroke-width="0.2">104,500</text>
<text x="1147.5" y="390.9" font-size="9.46" fill="#464a53" stroke="#464a53" stroke-width="0.2">102,900</text>
<text x="1147.5" y="418.4" font-size="9.46" fill="#464a53" stroke="#464a53" stroke-width="0.2">101,300</text>
<text x="1147.5" y="470.9" font-size="9.46" fill="#464a53" stroke="#464a53" stroke-width="0.2">98,300</text>
<text x="1147.5" y="495.4" font-size="9.46" fill="#464a53" stroke="#464a53" stroke-width="0.2">96,900</text>
<text x="1147.5" y="518.9" font-size="9.46" fill="#464a53" stroke="#464a53" stroke-width="0.2">95,600</text>
<text x="1147.5" y="540.9" font-size="9.46" fill="#464a53" stroke="#464a53" stroke-width="0.2">60.00</text>
<text x="1147.5" y="567.9" font-size="9.46" fill="#464a53" stroke="#464a53" stroke-width="0.2">40.00</text>
<rect x="1140.9" y="50.2" width="45" height="11.2" rx="1.5" fill="#3a3c43"/>
<text x="1147.8" y="59.2" font-size="9.65" fill="#fff" stroke="#fff" stroke-width="0.2">124,517</text>
<rect x="1140.9" y="173.5" width="45" height="11.8" rx="1.5" fill="#000"/>
<text x="1147.8" y="182.8" font-size="9.65" fill="#fff" stroke="#fff" stroke-width="0.2">116,000</text>
<rect x="1140.9" y="199" width="45" height="11.7" rx="1.5" fill="#f7f000"/>
<text x="1147.8" y="208.2" font-size="9.65" fill="#131722" stroke="#131722" stroke-width="0.2">114,325</text>
<rect x="1140.9" y="213.2" width="45" height="11.5" rx="1.5" fill="#8a0d12"/>
<text x="1147.8" y="222.3" font-size="9.65" fill="#fff" stroke="#fff" stroke-width="0.2">113,388</text>
<rect x="1140.9" y="309.8" width="45" height="11.6" rx="1.5" fill="#000"/>
<text x="1147.8" y="319.0" font-size="9.65" fill="#fff" stroke="#fff" stroke-width="0.2">107,300</text>
<rect x="1140.9" y="366.2" width="45" height="11.6" rx="1.5" fill="#8e1ba4"/>
<text x="1147.8" y="375.4" font-size="9.65" fill="#fff" stroke="#fff" stroke-width="0.2">103,874</text>
<rect x="1140.9" y="432" width="45" height="11.6" rx="1.5" fill="#000"/>
<text x="1147.8" y="441.2" font-size="9.65" fill="#fff" stroke="#fff" stroke-width="0.2">100,000</text>
<rect x="1140.9" y="227.6" width="47.9" height="21.8" rx="1.5" fill="#1e9e88"/>
<text x="1147.8" y="237.4" font-size="9.65" fill="#fff" stroke="#fff" stroke-width="0.2">112,448</text>
<text x="1147.8" y="247.6" font-size="9.65" fill="#fff" stroke="#fff" stroke-width="0.2">15:35:33</text>
<rect x="1140.9" y="539.5" width="34.2" height="11.8" rx="1.5" fill="#f3d33a"/>
<text x="1147.8" y="548.8" font-size="9.65" fill="#131722" stroke="#131722" stroke-width="0.2">54.72</text>
<rect x="1140.9" y="553.3" width="34.2" height="11.6" rx="1.5" fill="#7a5ccc"/>
<text x="1147.8" y="562.5" font-size="9.65" fill="#fff" stroke="#fff" stroke-width="0.2">43.97</text>
<text x="110" y="596.3" font-size="9" font-weight="bold" fill="#131722" text-anchor="middle">Apr</text>
<text x="266.2" y="596.3" font-size="9" font-weight="bold" fill="#131722" text-anchor="middle">May</text>
<text x="427.5" y="596.3" font-size="9" font-weight="bold" fill="#131722" text-anchor="middle">Jun</text>
<text x="584" y="596.3" font-size="9" font-weight="bold" fill="#131722" text-anchor="middle">Jul</text>
<text x="745" y="596.3" font-size="9" font-weight="bold" fill="#131722" text-anchor="middle">Aug</text>
<text x="906.5" y="596.3" font-size="9" font-weight="bold" fill="#131722" text-anchor="middle">Sep</text>
<text x="1062.5" y="596.3" font-size="9" font-weight="bold" fill="#131722" text-anchor="middle">Oct</text>
<g fill="#131722"><path d="M8.8,619.2 H17.6 V629.8 H12.8 V623.4 H8.8Z"/><circle cx="20.9" cy="621.3" r="2.1"/><path d="M24.2,619.2 H29.8 L24.6,629.8 H18.9Z"/></g>
<text x="35.5" y="629.7" font-size="14.4" font-weight="bold" letter-spacing="0.28" fill="#131722">TradingView</text>
</svg></body></html>
